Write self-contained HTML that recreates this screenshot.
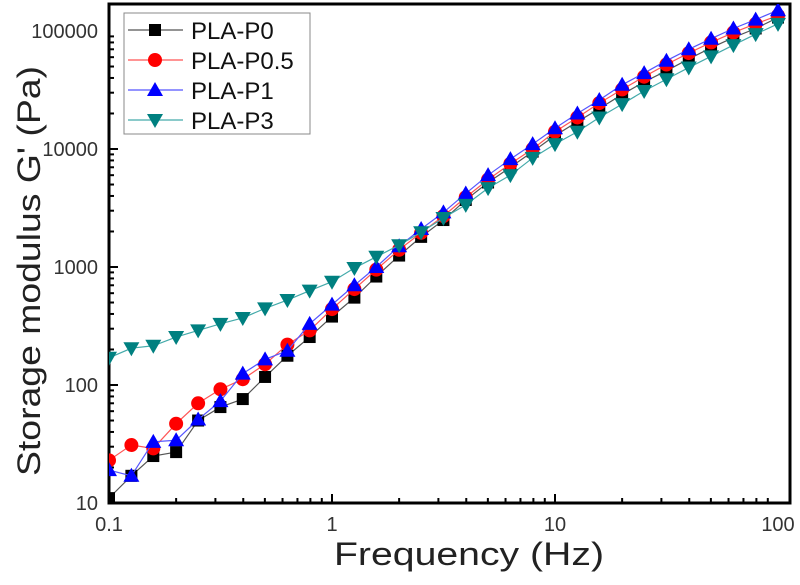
<!DOCTYPE html>
<html><head><meta charset="utf-8"><style>
body{margin:0;background:#fff;}
svg{display:block;font-family:"Liberation Sans",sans-serif;}
</style></head><body>
<svg id="chart" width="800" height="585"></svg>
<script>
const freqs=[0.1,0.126,0.158,0.2,0.251,0.316,0.398,0.501,0.631,0.794,1,1.26,1.58,2,2.51,3.16,3.98,5.01,6.31,7.94,10,12.6,15.8,20,25.1,31.6,39.8,50.1,63.1,79.4,100];
const p0=[11,17,25,27,50,65,76,117,177,255,380,550,830,1250,1800,2500,3700,5200,7000,9500,13000,17000,22000,29000,37000,46000,58000,72000,88000,105000,130000];
const p05=[23,31,29,47,70,92,112,150,220,290,440,650,950,1400,1950,2700,3900,5500,7500,10000,14000,18500,24500,32000,41000,52000,65000,80000,97000,115000,135000];
const p1=[19,17,33,34,51,73,125,165,195,330,480,700,1000,1500,2100,2900,4200,6000,8200,11000,15000,20000,26000,35000,44000,56000,70000,86000,105000,125000,150000];
const p3=[170,205,215,255,290,330,370,446,525,630,750,980,1220,1530,1970,2600,3360,4660,6000,8400,11000,14000,18500,24000,31000,39000,49000,61000,76000,94000,115000];
const xTicks=[0.1,1,10,100];const xTickLabels=["0.1","1","10","100"];
const yTicks=[10,100,1000,10000,100000];const yTickLabels=["10","100","1000","10000","100000"];
const NS="http://www.w3.org/2000/svg";const svg=document.getElementById('chart');
const L=109,R=790,T=4,B=503;
const xs=v=>109+223*(Math.log10(v)+1);
const ys=v=>503-118*(Math.log10(v)-1);
function mk(t,a,p){const e=document.createElementNS(NS,t);for(const k in a)e.setAttribute(k,a[k]);(p||svg).appendChild(e);return e;}
const frame=mk('rect',{x:L,y:T,width:R-L,height:B-T,fill:'none',stroke:'#000','stroke-width':3});

for(let d=-1;d<2;d++)for(let m=1;m<10;m++){const v=m*Math.pow(10,d);const x=xs(v);const len=m===1?9:5;
const t=mk('line',{x1:x,x2:x,y1:B,y2:B-len,stroke:'#000','stroke-width':2});}
xTicks.forEach((v,i)=>{const t=mk('text',{x:xs(v),y:531,'text-anchor':'middle','font-size':20,fill:'#333'});t.textContent=xTickLabels[i];});
for(let d=1;d<5;d++)for(let m=1;m<10;m++){const v=m*Math.pow(10,d);const y=ys(v);if(y<T)continue;const len=m===1?9:5;
const t=mk('line',{x1:L,x2:L+len,y1:y,y2:y,stroke:'#000','stroke-width':2});}
yTicks.forEach((v,i)=>{const t=mk('text',{x:98,y:ys(v)+7,'text-anchor':'end','font-size':20,fill:'#333'});t.textContent=yTickLabels[i];});
const xt=mk('text',{x:334,y:565,'font-size':32,fill:'#222',textLength:270,lengthAdjust:'spacingAndGlyphs'});xt.textContent='Frequency (Hz)';
const yt=mk('text',{x:0,y:0,'font-size':32,fill:'#222',textLength:410,lengthAdjust:'spacingAndGlyphs',transform:'translate(40,476) rotate(-90)'});yt.textContent="Storage modulus G' (Pa)";
function marker(g,type,x,y,c){
 if(type==='sq')return mk('rect',{x:x-6,y:y-6,width:12,height:12,fill:c},g);
 if(type==='ci')return mk('circle',{cx:x,cy:y,r:7,fill:c},g);
 if(type==='up')return mk('polygon',{points:`${x},${y-8} ${x+8},${y+6} ${x-8},${y+6}`,fill:c},g);
 return mk('polygon',{points:`${x},${y+8} ${x+8},${y-6} ${x-8},${y-6}`,fill:c},g);}
const series=[{d:p0,c:'#000',lc:'#555',m:'sq',n:'PLA-P0'},{d:p05,c:'#f00',lc:'#f55',m:'ci',n:'PLA-P0.5'},{d:p1,c:'#00f',lc:'#55f',m:'up',n:'PLA-P1'},{d:p3,c:'#008080',lc:'#4aa',m:'dn',n:'PLA-P3'}];
const clip=mk('clipPath',{id:'cp'});mk('rect',{x:L,y:T,width:R-L,height:B-T},clip);
series.forEach(s=>{const g=mk('g',{'clip-path':'url(#cp)'});
 const pl=mk('polyline',{points:freqs.map((f,i)=>xs(f)+','+ys(s.d[i])).join(' '),fill:'none',stroke:s.lc,'stroke-width':1.2},g);
 
 freqs.forEach((f,i)=>{const mm=marker(g,s.m,xs(f),ys(s.d[i]),s.c);});});
const lg=mk('g',{});
const lb=mk('rect',{x:124,y:13,width:186,height:121,fill:'#fff',stroke:'#888','stroke-width':1},lg);
series.forEach((s,i)=>{const y=30+i*30;const e=mk('g',{},lg);
 mk('line',{x1:128,x2:183,y1:y,y2:y,stroke:s.lc,'stroke-width':1.2},e);marker(e,s.m,155,y,s.c);
 const t=mk('text',{x:191,y:y+9,'font-size':24,fill:'#111'},e);t.textContent=s.n;});
</script></body></html>
